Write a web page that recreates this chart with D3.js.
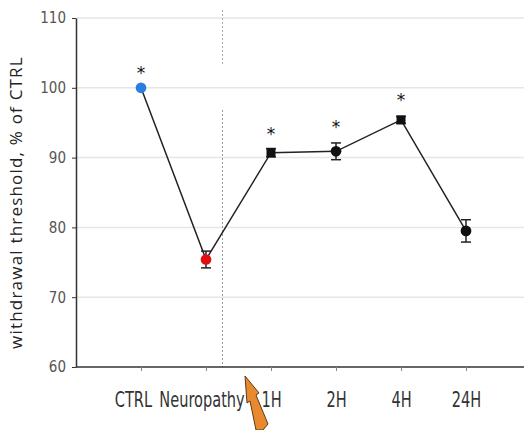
<!DOCTYPE html>
<html>
<head>
<meta charset="utf-8">
<script src="https://cdn.jsdelivr.net/npm/d3@7"></script>
<style>
  body { margin: 0; background: #fff; }
  svg { display: block; }
</style>
</head>
<body>
<div id="canvas"></div>
<script>
const categories = ["CTRL", "Neuropathy", "1H", "2H", "4H", "24H"];
const values = [100, 75.4, 90.7, 90.9, 95.4, 79.5];
const errors = [0, 1.2, 0.6, 1.2, 0.5, 1.6];
const starred = [true, false, true, true, true, false];
const starOffset = [2.7, 0, 3.2, 4.1, 3.4, 0];
const yTicks = [60, 70, 80, 90, 100, 110];
const pointColors = ["#2b7fe0", "#e01010", "#111", "#111", "#111", "#111"];
const pointShapes = ["circle", "circle", "square", "circle", "square", "circle"];

const width = 524;
const height = 430;
const margin = { top: 18, left: 76, bottom: 63, right: 0 };
const iheight = height - margin.top - margin.bottom;
const narrow = "'DejaVu Sans Condensed', 'Liberation Sans Narrow', 'Arial Narrow', sans-serif";

const svg = d3.select("#canvas").append("svg")
    .attr("width", width)
    .attr("height", height);

const g = svg.append("g").attr("transform", `translate(${margin.left},${margin.top})`);

const y = d3.scaleLinear().domain([60, 110]).range([iheight, 0]);
const x = d3.scalePoint().domain(categories).range([65, 390]);

// grid lines
g.selectAll("line.grid").data(yTicks.filter(d => d > 60)).enter().append("line")
    .attr("x1", 0).attr("x2", width - margin.left)
    .attr("y1", d => y(d)).attr("y2", d => y(d))
    .style("stroke", "#e6e6e6").style("stroke-width", 1.5);

// dotted separator between Neuropathy and treatment
const sepX = (x("Neuropathy") + x("1H")) / 2 - 16;
g.append("line")
    .attr("x1", sepX).attr("x2", sepX)
    .attr("y1", -8).attr("y2", 47)
    .style("stroke", "#aaa").style("stroke-dasharray", "2,2");
g.append("line")
    .attr("x1", sepX).attr("x2", sepX)
    .attr("y1", 92).attr("y2", iheight)
    .style("stroke", "#999").style("stroke-dasharray", "2,2");

// y axis
const yAxis = g.append("g")
    .call(d3.axisLeft(y).tickValues(yTicks).tickSize(4).tickSizeOuter(0).tickPadding(6));
yAxis.select(".domain").style("stroke", "#333").style("stroke-width", 1.5);
yAxis.selectAll(".tick line").style("stroke", "#333");
yAxis.selectAll("text")
    .style("font-family", narrow)
    .style("font-size", "15px").style("fill", "#555");

// x axis
const xAxis = g.append("g")
    .attr("transform", `translate(0,${iheight})`)
    .call(d3.axisBottom(x).tickSize(4).tickSizeOuter(0).tickPadding(18));
xAxis.select(".domain")
    .attr("d", `M0,0H${width - margin.left}`)
    .style("stroke", "#333").style("stroke-width", 1.5);
xAxis.selectAll(".tick line").style("stroke", "#888");
xAxis.selectAll("text")
    .style("font-family", narrow)
    .style("font-size", "18px").style("fill", "#333")
    .attr("transform", "scale(0.9,1.15)")
    .attr("dx", d => d === "CTRL" ? -9 : d === "Neuropathy" ? -5 : 0);

// y label
svg.append("text")
    .attr("transform", `translate(22,${margin.top + iheight / 2 + 10}) rotate(-90)`)
    .attr("text-anchor", "middle")
    .style("font-family", "'Open Sans', sans-serif")
    .style("font-size", "17px").style("fill", "#222")
    .style("letter-spacing", "1.2px")
    .text("withdrawal threshold, % of CTRL");

const data = categories.map((c, i) => ({ c, v: values[i], e: errors[i], s: starred[i], so: starOffset[i], col: pointColors[i], sh: pointShapes[i] }));

// connecting line
g.append("path").datum(data)
    .attr("d", d3.line().x(d => x(d.c)).y(d => y(d.v)))
    .style("fill", "none").style("stroke", "#222").style("stroke-width", 1.5);

// error bars
const eb = g.selectAll("g.err").data(data.filter(d => d.e > 0)).enter().append("g");
eb.append("line")
    .attr("x1", d => x(d.c)).attr("x2", d => x(d.c))
    .attr("y1", d => y(d.v - d.e)).attr("y2", d => y(d.v + d.e))
    .style("stroke", "#222").style("stroke-width", 1.5);
[-1, 1].forEach(s => {
  eb.append("line")
      .attr("x1", d => x(d.c) - 5).attr("x2", d => x(d.c) + 5)
      .attr("y1", d => y(d.v + s * d.e)).attr("y2", d => y(d.v + s * d.e))
      .style("stroke", "#222").style("stroke-width", 1.5);
});

// markers
g.selectAll("path.pt").data(data).enter().append("path")
    .attr("transform", d => `translate(${x(d.c)},${y(d.v)})`)
    .attr("d", d => d3.symbol().type(d.sh === "square" ? d3.symbolSquare : d3.symbolCircle).size(d.sh === "square" ? 81 : 90)())
    .style("fill", d => d.col);

// significance stars
g.selectAll("text.star").data(data.filter(d => d.s)).enter().append("text")
    .attr("x", d => x(d.c)).attr("y", d => y(d.v + d.so) + 10)
    .attr("text-anchor", "middle")
    .style("font-family", "'DejaVu Sans', sans-serif")
    .style("font-size", "17px").style("fill", "#111")
    .text("*");

// orange arrow annotation
svg.append("path")
    .attr("d", "M245,376 L259,393 L256,395 L268,424 L263,430 L256,430 L250,401 L247,403 Z")
    .style("fill", "#e8892f").style("stroke", "#5a3a1a").style("stroke-width", 1);
</script>
</body>
</html>
